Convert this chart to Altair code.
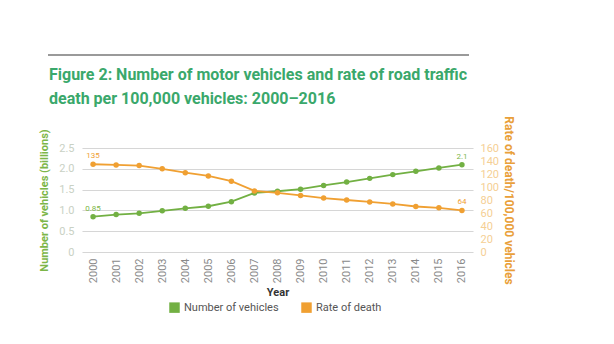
import altair as alt
import pandas as pd

years = ["2000", "2001", "2002", "2003", "2004", "2005", "2006", "2007", "2008",
         "2009", "2010", "2011", "2012", "2013", "2014", "2015", "2016"]
vehicles = [0.85, 0.90, 0.93, 0.99, 1.05, 1.10, 1.21, 1.42, 1.46, 1.51, 1.60,
            1.68, 1.77, 1.86, 1.94, 2.02, 2.10]
rate = [135, 134, 133, 128, 122, 117, 109, 94, 91, 87, 83, 80, 77, 74, 70, 68, 64]
veh_labels = ["0.85", "", "", "", "", "", "", "", "", "", "", "", "", "", "", "", "2.1"]
rate_labels = ["135", "", "", "", "", "", "", "", "", "", "", "", "", "", "", "", "64"]
series = ["Number of vehicles", "Rate of death"]
title_lines = ["Figure 2: Number of motor vehicles and rate of road traffic",
               "death per 100,000 vehicles: 2000\u20132016"]
left_ticks = [0, 0.5, 1.0, 1.5, 2.0, 2.5]
right_ticks = [0, 20, 40, 60, 80, 100, 120, 140, 160]

GREEN = "#72b043"
ORANGE = "#f0a032"
TITLE_GREEN = "#3aa86b"

df = pd.DataFrame({
    "year": years,
    "vehicles": vehicles,
    "rate": rate,
    "vlab": veh_labels,
    "rlab": rate_labels,
})

FONT = "Roboto"

x = alt.X("year:O",
          scale=alt.Scale(type="point", padding=0.48),
          axis=alt.Axis(title="Year", labelAngle=-90, labelColor="#8a8a8a",
                        labelFontSize=11, labelFont=FONT, labelPadding=6,
                        titleFont=FONT, titleFontSize=11, titleColor="#333333",
                        titleFontWeight="bold", titlePadding=4,
                        domain=False, ticks=False, grid=False))

color_scale = alt.Scale(domain=series, range=[GREEN, ORANGE])
legend = alt.Legend(title=None, orient="none", direction="horizontal",
                    legendX=87, legendY=154, symbolType="square", symbolSize=110,
                    labelFont=FONT, labelFontSize=11, labelColor="#555555",
                    columnPadding=22, padding=0, symbolStrokeWidth=0)

base = alt.Chart(df)

yl = alt.Y("vehicles:Q", scale=alt.Scale(domain=[0, 2.5], nice=False),
           axis=alt.Axis(title="Number of vehicles (billions)", orient="left",
                         values=left_ticks, tickCount=6,
                         labelExpr="datum.value == 0 ? '0' : format(datum.value, '.1f')",
                         labelOverlap=False,
                         labelColor="#c9d1c4", labelFont=FONT, labelFontSize=11,
                         labelPadding=8, ticks=False, domain=False,
                         grid=True, gridColor="#d6d6d6", gridWidth=1.2,
                         titleColor="#7cb648", titleFont=FONT, titleFontSize=11,
                         titleFontWeight="bold", titlePadding=9))

left_line = base.mark_line(strokeWidth=1.8).encode(x=x, y=yl, color=alt.value(GREEN))
left_pts = base.mark_point(filled=True, size=30, opacity=1).encode(
    x=x, y=yl,
    color=alt.Color("s:N", scale=color_scale, legend=legend)
).transform_calculate(s="'Number of vehicles'")
left_txt = base.mark_text(dy=-8, fontSize=8, font=FONT).encode(
    x=x, y=yl, text="vlab:N", color=alt.value("#7cb648"))

left = alt.layer(left_line, left_pts, left_txt)

yr = alt.Y("rate:Q", scale=alt.Scale(domain=[0, 160], nice=False),
           axis=alt.Axis(title="Rate of death/100,000 vehicles", orient="right",
                         values=right_ticks, tickCount=9, labelOverlap=False,
                         labelColor="#f5cf95", labelFont=FONT, labelFontSize=11,
                         labelPadding=7, ticks=False, domain=False, grid=False,
                         titleColor="#e9a03a", titleFont=FONT, titleFontSize=12,
                         titleFontWeight="bold", titlePadding=3))

right_line = base.mark_line(strokeWidth=1.8).encode(x=x, y=yr, color=alt.value(ORANGE))
right_pts = base.mark_point(filled=True, size=30, opacity=1).encode(
    x=x, y=yr,
    color=alt.Color("s:N", scale=color_scale, legend=legend)
).transform_calculate(s="'Rate of death'")
right_txt = base.mark_text(dy=-8, fontSize=8, font=FONT).encode(
    x=x, y=yr, text="rlab:N", color=alt.value(ORANGE))

right = alt.layer(right_line, right_pts, right_txt)

one = pd.DataFrame({"k": [0]})
title_style = dict(align="left", baseline="alphabetic", font=FONT, fontSize=16,
                   fontWeight="bold", color=TITLE_GREEN)
title1 = alt.Chart(one).mark_text(**title_style).encode(
    x=alt.value(-33), y=alt.value(-68), text=alt.value(title_lines[0]))
title2 = alt.Chart(one).mark_text(**title_style).encode(
    x=alt.value(-33), y=alt.value(-44), text=alt.value(title_lines[1]))
top_rule = alt.Chart(one).mark_rule(color="#9a9a9a", strokeWidth=2).encode(
    x=alt.value(-34), x2=alt.value(387), y=alt.value(-93))

deco = alt.layer(title1, title2, top_rule)

chart = alt.layer(left, right, deco).resolve_scale(y="independent").properties(
    width=391, height=104,
    autosize=alt.AutoSizeParams(type="none"),
    padding={"left": 82, "top": 148, "right": 141, "bottom": 92},
    background="white",
).configure_view(strokeWidth=0)

chart.save("out.html", embed_options={"renderer": "svg", "actions": False})
